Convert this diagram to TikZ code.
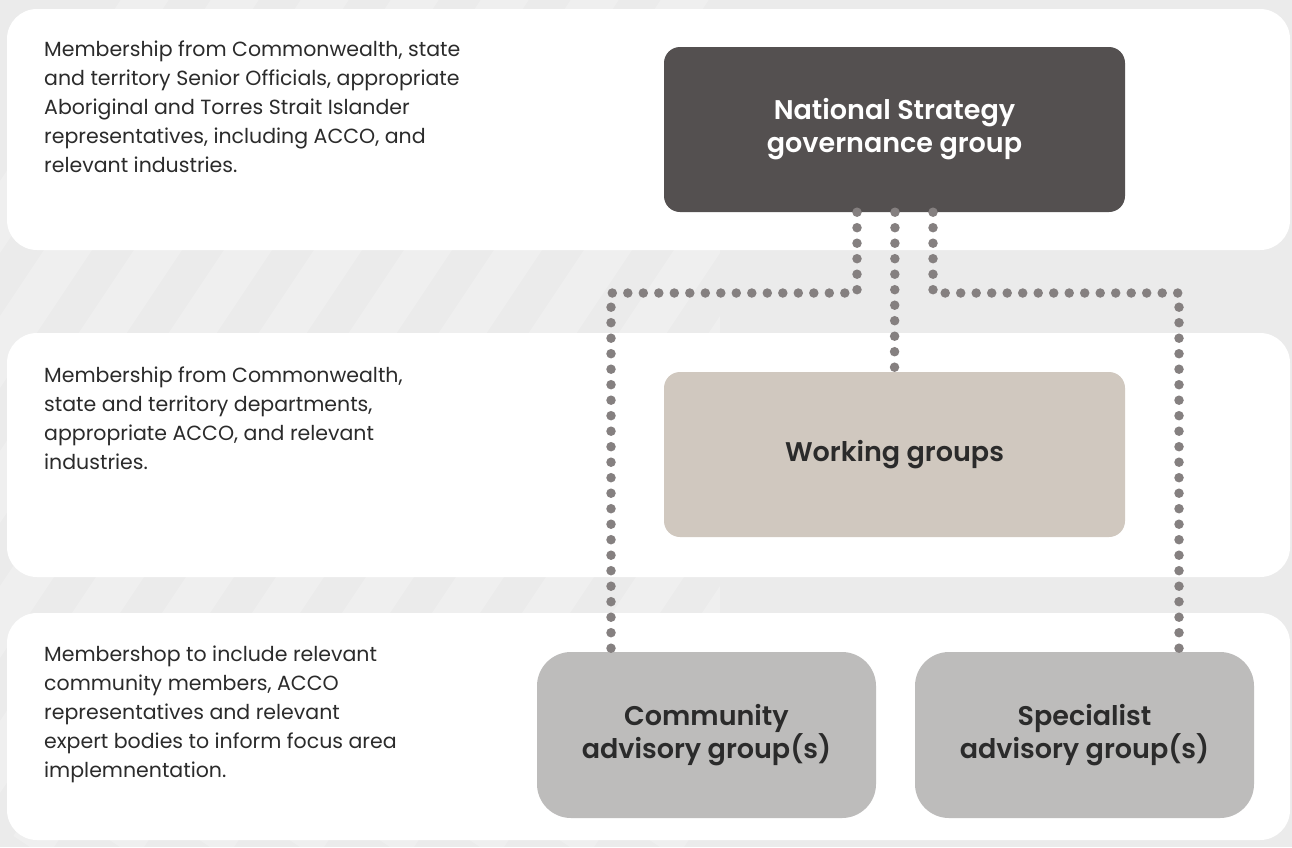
\documentclass[tikz,border=0pt]{standalone}
\usepackage{fontspec}
\setmainfont{Poppins}[BoldFont={Poppins SemiBold}]
\usetikzlibrary{calc}
\definecolor{bggrey}{HTML}{EBEBEB}
\definecolor{topdark}{HTML}{545050}
\definecolor{workbeige}{HTML}{D0C8BF}
\definecolor{advgrey}{HTML}{BDBCBB}
\definecolor{dotgrey}{HTML}{858080}
\definecolor{textdark}{HTML}{2B2B2B}
\tikzset{
  band/.style={fill=white, rounded corners=30pt},
  groupbox/.style={rectangle, rounded corners=16pt, minimum width=461pt, minimum height=165pt,
    align=center, font=\fontsize{27}{33}\selectfont\bfseries},
  advbox/.style={groupbox, rounded corners=34pt, minimum width=339pt, minimum height=166pt, fill=advgrey, text=textdark},
  membertext/.style={anchor=north west, align=left, inner sep=0pt, text=textdark,
    font=\fontsize{20.5}{29}\selectfont},
  dotline/.style={draw=dotgrey, line width=9.5pt, line cap=round, dash pattern=on 0pt off 15.5pt}
}

\begin{document}
\begin{tikzpicture}[x=1pt,y=-1pt]
    \fill[bggrey] (0,0) rectangle (1292,847);
    \useasboundingbox (0,0) rectangle (1292,847);
    % faint stripes in the background
    \begin{scope}
        \clip (0,0) rectangle (720,847);
        \foreach \s in {-420,-330,...,660}
            \draw[white, opacity=0.2, line width=40pt] (\s,847) -- ($(\s,847)+(600,-900)$);
    \end{scope}

    % the three levels
    \fill[band] (7,9) rectangle (1290,250);
    \fill[band] (7,333) rectangle (1290,577);
    \fill[band] (7,613) rectangle (1290,840);

    \node[membertext] (topnote) at (44,41) {Membership from Commonwealth, state\\ and territory Senior Officials, appropriate\\ Aboriginal and Torres Strait Islander\\ representatives, including ACCO, and\\ relevant industries.};
    \node[membertext] (worknote) at (44,367) {Membership from Commonwealth,\\ state and territory departments,\\ appropriate ACCO, and relevant\\ industries.};
    \node[membertext] (advnote) at (44,646) {Membershop to include relevant\\ community members, ACCO\\ representatives and relevant\\ expert bodies to inform focus area\\ implemnentation.};

    % group boxes
    \node[groupbox, fill=topdark, text=white] (national) at (894.5,129.5) {National Strategy\\ governance group};
    \node[groupbox, fill=workbeige, text=textdark] (working) at (894.5,454.5) {Working groups};
    \node[advbox] (community) at (706.5,735) {Community\\ advisory group(s)};
    \node[advbox] (specialist) at (1084.5,735) {Specialist\\ advisory group(s)};

    % dotted links
    \coordinate (leftturn) at (857,293);
    \coordinate (rightturn) at (933,293);
    \draw[dotline] ($(national.south)+(-37.5,0)$) -- (leftturn) -- (leftturn -| 611,0) -- ($(community.north)+(-95.5,0)$);
    \draw[dotline] ($(national.south)+(0.5,0)$) -- (working.north);
    \draw[dotline] ($(national.south)+(38.5,0)$) -- (rightturn) -- (rightturn -| 1179,0) -- ($(specialist.north)+(94.5,0)$);
\end{tikzpicture}
\end{document}
